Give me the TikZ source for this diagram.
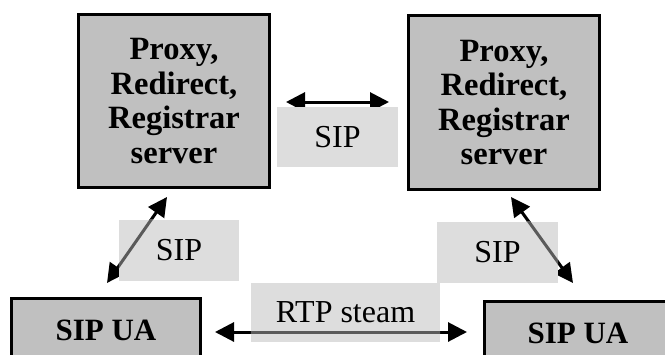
\documentclass[tikz,border=0pt]{standalone}
\usepackage{fontspec}
\setmainfont{Liberation Serif}
\usetikzlibrary{arrows.meta}
\definecolor{boxgray}{HTML}{C0C0C0}
\definecolor{lblgray}{HTML}{DDDDDD}
\definecolor{shaftgray}{HTML}{5A5A5A}
\tikzset{
  server/.style={draw=black, line width=3pt, fill=boxgray, inner sep=0pt,
                 font=\fontsize{32.5}{34.5}\selectfont\bfseries, align=center,
                 minimum width=191pt},
  uabox/.style={draw=black, line width=3pt, fill=boxgray, inner sep=0pt,
                font=\fontsize{31}{34.5}\selectfont\bfseries, minimum height=63pt},
  lbl/.style={fill=lblgray, inner sep=0pt, font=\fontsize{32}{34.5}\selectfont},
  arr/.style={line width=3pt, draw=black,
              {Triangle[length=19pt,width=19pt]}-{Triangle[length=19pt,width=19pt]}},
  shaft/.style={line width=3pt, draw=shaftgray}
}
\begin{document}
\begin{tikzpicture}[x=1pt, y=-1pt]
\useasboundingbox (0,0) rectangle (665,354);
\clip (0,0) rectangle (665,354);
\fill[white] (0,0) rectangle (665,354);

% server boxes
\node[server, minimum height=173pt] (tl) at (174,101) {Proxy,\\Redirect,\\Registrar\\server};
\node[server, minimum height=174pt] (tr) at (504,102.5) {Proxy,\\Redirect,\\Registrar\\server};

% user agents
\node[uabox, minimum width=189pt] (ual) at (106,330) {SIP UA};
\node[uabox, minimum width=187pt] (uar) at (578,333) {SIP UA};

% arrow end points
\coordinate (m1) at (286,102);
\coordinate (m2) at (389,102);
\coordinate (l1) at (107,283);
\coordinate (l2) at (167,197);
\coordinate (r1) at (511,197);
\coordinate (r2) at (573,283);
\coordinate (b1) at (215,332);
\coordinate (b2) at (467,332);

% arrows
\draw[arr] (m1) -- (m2);
\draw[arr] (l1) -- (l2);
\draw[arr] (r1) -- (r2);
\draw[arr] (b1) -- (b2);

% label boxes
\node[lbl, minimum width=121pt, minimum height=60pt] (sipm) at (337.5,137) {SIP};
\node[lbl, minimum width=120pt, minimum height=61pt] (sipl) at (179,250.5) {SIP};
\node[lbl, minimum width=121pt, minimum height=61pt] (sipr) at (497.5,252.5) {SIP};
\node[lbl, minimum width=189pt, minimum height=59pt] (rtp) at (345.5,312.5) {RTP steam};

% shafts seen through the label boxes
\begin{scope}
  \clip (sipl.south west) rectangle (sipl.north east);
  \draw[shaft] (l1) -- (l2);
\end{scope}
\begin{scope}
  \clip (sipr.south west) rectangle (sipr.north east);
  \draw[shaft] (r1) -- (r2);
\end{scope}
\begin{scope}
  \clip (rtp.south west) rectangle (rtp.north east);
  \draw[shaft] (b1) -- (b2);
\end{scope}
\end{tikzpicture}
\end{document}
